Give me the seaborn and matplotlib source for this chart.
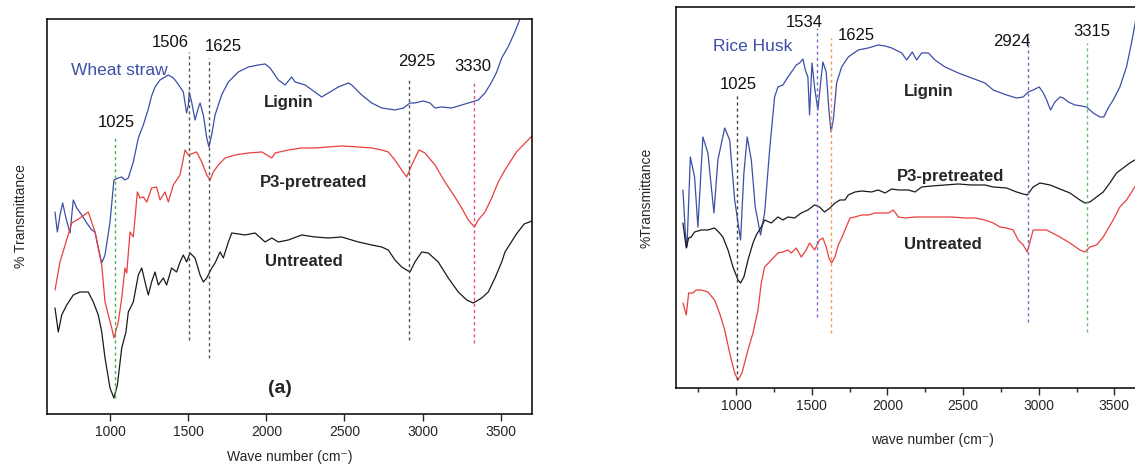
import numpy as np
import pandas as pd
import matplotlib
matplotlib.use("Agg")
import matplotlib.pyplot as plt
from matplotlib.ticker import MultipleLocator, FixedLocator
import seaborn as sns

# ---------------- data: (a) Wheat straw ----------------
ws_lignin_x = [648, 663, 680, 697, 718, 744, 765, 787, 819, 851, 883, 904, 925, 947, 968, 1000,
               1025, 1053, 1075, 1096, 1117, 1149, 1181, 1213, 1245, 1266, 1288, 1320, 1352, 1373,
               1405, 1426, 1448, 1469, 1490, 1501, 1507, 1522, 1544, 1565, 1576, 1597, 1619, 1633,
               1650, 1672, 1714, 1757, 1821, 1885, 1949, 1992, 2024, 2077, 2120, 2162, 2184, 2248,
               2311, 2354, 2397, 2461, 2525, 2546, 2610, 2674, 2738, 2823, 2877, 2919, 2951, 3004,
               3047, 3079, 3122, 3186, 3250, 3314, 3356, 3399, 3442, 3474, 3506, 3550, 3590, 3625, 3650]
ws_lignin_y = [202, 182, 199, 211, 196, 181, 214, 206, 199, 191, 184, 182, 166, 151, 159, 192,
               234, 236, 237, 234, 236, 252, 276, 289, 305, 318, 327, 334, 337, 339,
               336, 332, 327, 322, 301, 309, 322, 312, 294, 306, 311, 299, 276, 267,
               279, 299, 319, 332, 342, 347, 349, 350, 346, 334, 329, 337, 332, 329,
               322, 317, 321, 327, 331, 329, 319, 311, 306, 304, 306, 311, 311, 313,
               311, 306, 307, 306, 309, 312, 314, 321, 332, 342, 356, 368, 382, 396, 410]

ws_p3_x = [648, 680, 755, 808, 861, 904, 947, 968, 1011, 1025, 1053, 1075, 1096, 1107, 1128, 1149,
           1175, 1192, 1213, 1235, 1266, 1298, 1320, 1352, 1373, 1405, 1448, 1480, 1501, 1554,
           1587, 1619, 1640, 1661, 1693, 1736, 1800, 1885, 1971, 2035, 2056, 2141, 2226, 2312,
           2397, 2482, 2589, 2674, 2738, 2780, 2823, 2866, 2898, 2930, 2977, 3015, 3079, 3143,
           3207, 3250, 3292, 3331, 3356, 3399, 3442, 3484, 3527, 3600, 3700]
ws_p3_y = [124, 152, 191, 196, 202, 182, 149, 112, 86, 76, 92, 116, 146, 141, 182, 177,
           222, 216, 217, 212, 226, 227, 214, 222, 212, 229, 239, 264, 259, 262,
           252, 239, 234, 242, 249, 256, 259, 261, 262, 256, 261, 264, 266, 266,
           267, 268, 267, 266, 264, 262, 254, 244, 237, 249, 264, 261, 249, 232,
           217, 206, 194, 187, 194, 202, 216, 232, 244, 262, 278]

ws_untr_x = [648, 669, 691, 723, 765, 808, 861, 893, 925, 947, 968, 1000, 1025, 1047, 1075, 1102,
             1117, 1149, 1181, 1203, 1224, 1245, 1266, 1288, 1309, 1341, 1362, 1394, 1426, 1448,
             1469, 1490, 1512, 1544, 1576, 1597, 1619, 1651, 1672, 1704, 1725, 1757, 1779, 1864,
             1928, 1992, 2035, 2077, 2141, 2226, 2312, 2397, 2482, 2589, 2674, 2738, 2780, 2823,
             2866, 2919, 2951, 2994, 3036, 3100, 3164, 3228, 3282, 3324, 3378, 3420, 3463, 3506,
             3527, 3600, 3650, 3700]
ws_untr_y = [106, 82, 99, 109, 119, 122, 122, 112, 99, 82, 56, 26, 16, 29, 66, 82,
             102, 112, 139, 146, 132, 119, 132, 142, 129, 136, 129, 146, 142, 152,
             159, 152, 161, 156, 139, 132, 136, 146, 151, 162, 156, 172, 181, 179,
             181, 172, 176, 172, 174, 179, 177, 176, 177, 172, 169, 167, 164, 154,
             147, 142, 152, 162, 161, 152, 136, 122, 114, 111, 116, 122, 136, 152,
             162, 180, 190, 193]

# ---------------- data: (b) Rice husk ----------------
rh_lignin_x = [648, 664, 675, 697, 725, 747, 780, 813, 853, 879, 924, 957, 990, 1029, 1051, 1073,
               1100, 1126, 1161, 1188, 1221, 1254, 1276, 1309, 1342, 1375, 1397, 1419, 1441, 1457,
               1474, 1485, 1501, 1518, 1540, 1558, 1573, 1595, 1613, 1627, 1642, 1664, 1697, 1741,
               1807, 1873, 1939, 1984, 2028, 2094, 2127, 2164, 2193, 2226, 2270, 2314, 2380, 2468,
               2556, 2644, 2699, 2787, 2853, 2897, 2930, 2963, 3003, 3030, 3052, 3078, 3107, 3140,
               3162, 3195, 3239, 3283, 3316, 3360, 3404, 3430, 3459, 3492, 3536, 3580, 3613, 3629,
               3635, 3660, 3700]
rh_lignin_y = [198, 155, 141, 231, 211, 161, 251, 235, 175, 228, 260, 248, 188, 148, 215, 251,
               228, 181, 153, 175, 238, 291, 301, 303, 311, 318, 323, 325, 329, 318,
               311, 273, 325, 301, 278, 305, 326, 316, 278, 256, 268, 305, 321, 331,
               338, 340, 343, 342, 340, 335, 328, 336, 328, 335, 335, 328, 321, 315,
               310, 305, 298, 293, 290, 291, 296, 298, 301, 295, 288, 278, 286, 291,
               290, 286, 283, 282, 281, 275, 271, 271, 280, 288, 301, 321, 345, 358,
               363, 385, 400]

rh_p3_x = [648, 670, 686, 703, 725, 769, 813, 857, 890, 912, 946, 979, 1012, 1029, 1051, 1078,
           1111, 1133, 1166, 1188, 1232, 1276, 1309, 1342, 1386, 1430, 1474, 1518, 1551, 1584,
           1620, 1653, 1686, 1719, 1741, 1785, 1829, 1895, 1939, 1984, 2028, 2072, 2138, 2182,
           2226, 2292, 2380, 2468, 2556, 2644, 2699, 2787, 2853, 2897, 2924, 2963, 3008, 3074,
           3140, 3206, 3272, 3305, 3338, 3382, 3426, 3470, 3514, 3558, 3602, 3635, 3700]
rh_p3_y = [165, 140, 150, 151, 156, 158, 158, 160, 155, 151, 138, 121, 108, 105, 111, 128,
           145, 153, 161, 168, 165, 171, 168, 171, 170, 175, 178, 183, 181, 176,
           180, 185, 188, 188, 193, 196, 197, 196, 198, 195, 199, 198, 198, 196,
           201, 202, 203, 204, 203, 203, 201, 200, 196, 194, 193, 201, 205, 203,
           199, 195, 188, 185, 186, 191, 196, 205, 215, 220, 225, 228, 232]

rh_untr_x = [648, 670, 686, 714, 736, 769, 813, 857, 890, 924, 957, 990, 1012, 1038, 1078, 1111,
             1144, 1166, 1188, 1232, 1276, 1309, 1342, 1364, 1397, 1430, 1463, 1485, 1518, 1551,
             1573, 1595, 1613, 1631, 1653, 1675, 1697, 1719, 1752, 1785, 1829, 1873, 1917, 1962,
             2006, 2039, 2072, 2116, 2182, 2248, 2336, 2424, 2512, 2578, 2644, 2699, 2743, 2787,
             2831, 2864, 2897, 2924, 2963, 3008, 3052, 3140, 3206, 3272, 3305, 3338, 3382, 3426,
             3492, 3536, 3580, 3635, 3700]
rh_untr_y = [85, 73, 95, 95, 98, 98, 96, 88, 75, 58, 35, 15, 8, 15, 38, 55,
             78, 105, 121, 128, 135, 136, 138, 135, 140, 131, 138, 145, 138, 148,
             150, 141, 130, 125, 131, 143, 150, 158, 170, 171, 173, 173, 175, 175,
             175, 178, 171, 170, 171, 171, 171, 171, 170, 170, 168, 165, 161, 160,
             158, 148, 143, 136, 158, 158, 158, 151, 145, 138, 136, 141, 143, 151,
             168, 181, 188, 201, 215]

# peak markers: position, top, bottom, colour, label, label x, label y
ws_peaks_x = [1032, 1505, 1633, 2915, 3331]
ws_peaks_top = [276, 362, 356, 334, 331]
ws_peaks_bot = [16, 74, 56, 74, 71]
ws_peaks_col = ['#4fae4f', '#555555', '#555555', '#555555', '#e2508a']
ws_peak_lab = ['1025', '1506', '1625', '2925', '3330']
ws_lab_x = [1043, 1384, 1725, 2962, 3324]
ws_lab_y = [291, 371, 367, 352, 347]

rh_peaks_x = [1007, 1534, 1627, 2930, 3320]
rh_peaks_top = [295, 360, 350, 355, 345]
rh_peaks_bot = [8, 71, 55, 66, 56]
rh_peaks_col = ['#444444', '#6f6dbf', '#f59a55', '#6f6dbf', '#6fbb6f']
rh_peak_lab = ['1025', '1534', '1625', '2924', '3315']
rh_lab_x = [1012, 1452, 1796, 2820, 3349]
rh_lab_y = [303, 365, 352, 346, 356]

tick_vals = [1000, 1500, 2000, 2500, 3000, 3500]
minor_vals = [750, 1250, 1750, 2250, 2750, 3250, 3750]

BLUE = '#3c4fa6'
RED = '#e8403c'
BLACK = '#1a1a1a'

sns.set_style("white")
plt.rcParams['font.family'] = ['Liberation Sans', 'DejaVu Sans']
plt.rcParams['axes.edgecolor'] = 'black'
plt.rcParams['axes.linewidth'] = 1.1

fig = plt.figure(figsize=(11.35, 4.65), dpi=100)
axL = fig.add_axes([0.04185, 0.1097, 0.4269, 0.8495])
axR = fig.add_axes([0.5953, 0.1656, 0.4532, 0.8194])


def curve(ax, xs, ys, color):
    df = pd.DataFrame({'wn': xs, 't': ys})
    sns.lineplot(data=df, x='wn', y='t', ax=ax, color=color, lw=0.9,
                 sort=False, estimator=None)


curve(axL, ws_lignin_x, ws_lignin_y, BLUE)
curve(axL, ws_p3_x, ws_p3_y, RED)
curve(axL, ws_untr_x, ws_untr_y, BLACK)

curve(axR, rh_lignin_x, rh_lignin_y, BLUE)
curve(axR, rh_p3_x, rh_p3_y, BLACK)
curve(axR, rh_untr_x, rh_untr_y, RED)

for ax, px, pt, pb, pc, pl, lx, ly in [
        (axL, ws_peaks_x, ws_peaks_top, ws_peaks_bot, ws_peaks_col, ws_peak_lab, ws_lab_x, ws_lab_y),
        (axR, rh_peaks_x, rh_peaks_top, rh_peaks_bot, rh_peaks_col, rh_peak_lab, rh_lab_x, rh_lab_y)]:
    for x, t, b, c in zip(px, pt, pb, pc):
        ax.plot([x, x], [b, t], color=c, lw=1.0, ls=(0, (2.2, 2.2)))
    for s, x, y in zip(pl, lx, ly):
        ax.text(x, y, s, ha='center', va='center', fontsize=12, color='#111111')

# sample / series labels
axL.text(752, 343, 'Wheat straw', color=BLUE, fontsize=12.5, ha='left', va='center')
axL.text(2141, 311, 'Lignin', fontsize=12, fontweight='bold', ha='center', va='center')
axL.text(2300, 231, 'P3-pretreated', fontsize=12, fontweight='bold', ha='center', va='center')
axL.text(2242, 152, 'Untreated', fontsize=12, fontweight='bold', ha='center', va='center')
axL.text(2088, 25, '(a)', fontsize=14, fontweight='bold', ha='center', va='center')

axR.text(846, 341, 'Rice Husk', color=BLUE, fontsize=12.5, ha='left', va='center')
axR.text(2270, 296, 'Lignin', fontsize=12, fontweight='bold', ha='center', va='center')
axR.text(2418, 211, 'P3-pretreated', fontsize=12, fontweight='bold', ha='center', va='center')
axR.text(2369, 143, 'Untreated', fontsize=12, fontweight='bold', ha='center', va='center')

# axes formatting
axL.set_xlim(600, 3700)
axL.set_ylim(0, 395)
axL.set_xticks(tick_vals)
axL.set_yticks([])
axL.tick_params(axis='x', direction='out', length=5, width=1, labelsize=10, bottom=True, pad=3)
axL.set_xlabel('Wave number (cm\u207b)', fontsize=10, labelpad=8)
axL.set_ylabel('% Transmittance', fontsize=10, labelpad=14)

axR.set_xlim(600, 4000)
axR.set_ylim(0, 381)
axR.xaxis.set_major_locator(FixedLocator(tick_vals))
axR.xaxis.set_minor_locator(FixedLocator(minor_vals))
axR.set_yticks([])
axR.tick_params(axis='x', which='major', direction='out', length=5, width=1, labelsize=10, bottom=True, pad=3)
axR.tick_params(axis='x', which='minor', direction='out', length=3, width=1, bottom=True)
axR.set_xlabel('wave number (cm\u207b)', fontsize=10, labelpad=14)
axR.set_ylabel('%Transmittance', fontsize=10, labelpad=16)

for ax in (axL, axR):
    for sp in ax.spines.values():
        sp.set_visible(True)
        sp.set_color('black')
        sp.set_linewidth(1.1)

fig.savefig('out.png', dpi=100)
